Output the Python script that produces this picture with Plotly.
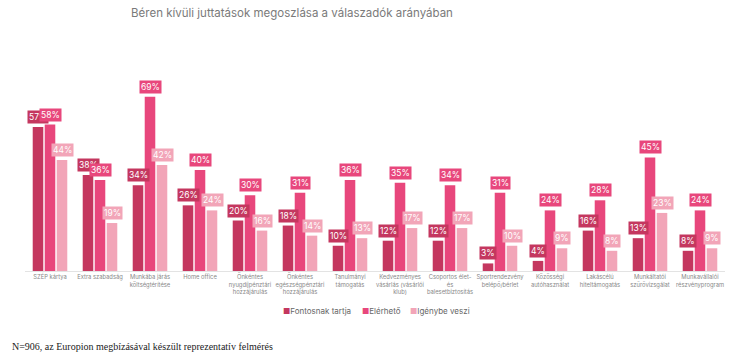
import plotly.graph_objects as go

categories = [
    "SZÉP kártya", "Extra szabadság", "Munkába járás<br>költségtérítése", "Home office",
    "Önkéntes<br>nyugdíjpénztári<br>hozzájárulás", "Önkéntes<br>egészségpénztári<br>hozzájárulás",
    "Tanulmányi<br>támogatás", "Kedvezményes<br>vásárlás (vásárlói<br>klub)",
    "Csoportos élet-<br>és<br>balesetbiztosítás", "Sportrendezvény<br>belépő/bérlet",
    "Közösségi<br>autóhasználat", "Lakáscélú<br>hiteltámogatás",
    "Munkáltatói<br>szűrővizsgálat", "Munkavállalói<br>részvényprogram",
]
fontosnak = [57, 38, 34, 26, 20, 18, 10, 12, 12, 3, 4, 16, 13, 8]
elerheto = [58, 36, 69, 40, 30, 31, 36, 35, 34, 31, 24, 28, 45, 24]
igenybe = [44, 19, 42, 24, 16, 14, 13, 17, 17, 10, 9, 8, 23, 9]
series_names = ["Fontosnak tartja", "Elérhető", "Igénybe veszi"]
colors = ["#c4375f", "#e8477c", "#f2a5b8"]

fig = go.Figure()
all_vals = [fontosnak, elerheto, igenybe]
for name, vals, col in zip(series_names, all_vals, colors):
    fig.add_trace(go.Bar(x=categories, y=vals, name=name, showlegend=False,
                         marker=dict(color=col, line=dict(width=0))))

shifts = [-12, 0, 12]
for s, (vals, col) in enumerate(zip(all_vals, colors)):
    for c, v in zip(categories, vals):
        fig.add_annotation(x=c, y=v, xref="x", yref="y", text=f"{v}%",
                           showarrow=False, xshift=shifts[s], yshift=3, yanchor="bottom",
                           bgcolor=col, borderpad=1,
                           font=dict(family="Inter", size=8.5, color="white"))

# legend drawn as annotations (compact, small square markers)
legend_x = [0.366, 0.479, 0.547]
for name, col, lx in zip(series_names, colors, legend_x):
    fig.add_annotation(text=f"<span style='color:{col}'>■</span>{name}",
                       xref="paper", yref="paper", x=lx, y=-0.198, xanchor="left", yanchor="middle",
                       showarrow=False, font=dict(family="Inter", size=8, color="#666"))

fig.add_annotation(text="N=906, az Europion megbízásával készült reprezentatív felmérés",
                   xref="paper", yref="paper", x=-0.021, y=-0.376, xanchor="left", yanchor="middle",
                   showarrow=False, font=dict(family="Liberation Serif", size=10, color="#222"))

fig.update_layout(
    width=730, height=359,
    margin=dict(l=25, r=5, t=69, b=88),
    paper_bgcolor="white", plot_bgcolor="white",
    barmode="group", bargap=0.28, bargroupgap=0.12,
    title=dict(text="Béren kívüli juttatások megoszlása a válaszadók arányában",
               x=0.4, xanchor="center", y=0.965, yanchor="middle",
               font=dict(family="Inter", size=11.5, color="#7a7a7a")),
    showlegend=False,
    xaxis=dict(showgrid=False, showline=True, linecolor="#e3e3e3", linewidth=1, ticks="",
               tickfont=dict(family="Inter", size=5.8, color="#888"), tickangle=0),
    yaxis=dict(visible=False, range=[0, 80]),
)

fig.write_html("out.html", config={"displayModeBar": False},
               post_script="document.body.style.margin='0';document.body.style.padding='0';")
